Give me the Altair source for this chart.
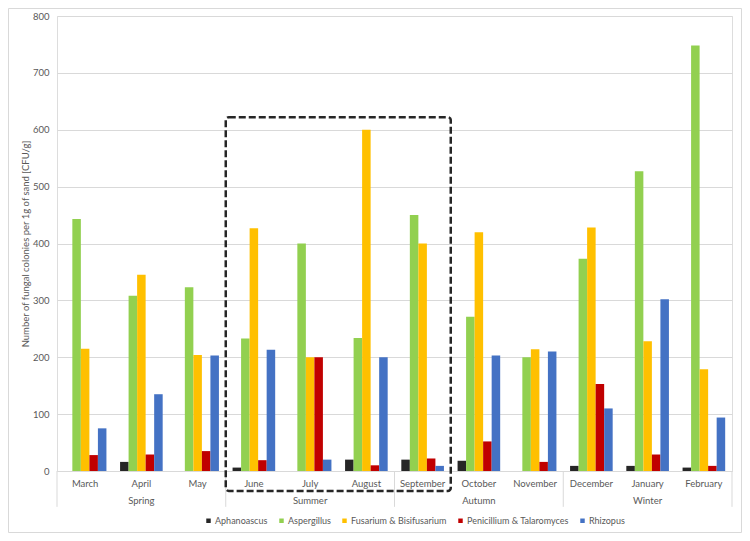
import altair as alt
import pandas as pd

months = ["March", "April", "May", "June", "July", "August", "September",
          "October", "November", "December", "January", "February"]
seasons = ["Spring", "Summer", "Autumn", "Winter"]
season_centres = [1.5, 4.5, 7.5, 10.5]
season_edges = [0, 3, 6, 9, 12]
series = ["Aphanoascus", "Aspergillus", "Fusarium & Bisifusarium",
          "Penicillium & Talaromyces", "Rhizopus"]
colors = ["#262626", "#92D050", "#FFC000", "#C00000", "#4472C4"]

aphanoascus = [0, 16, 0, 6, 0, 20, 20, 18, 0, 9, 9, 6]
aspergillus = [443, 308, 323, 233, 400, 234, 450, 271, 200, 373, 527, 748]
fusarium = [215, 345, 204, 427, 200, 600, 400, 420, 214, 428, 228, 179]
penicillium = [28, 29, 35, 19, 200, 10, 22, 52, 16, 153, 29, 9]
rhizopus = [75, 135, 203, 213, 20, 200, 9, 203, 210, 110, 302, 94]

# dashed highlight box (June..September), in scale units
box_x = [3]
box_x2 = [7]
box_top = [622]
box_bottom = [-35]
sep_top = 0
sep_bottom = -63

values = [aphanoascus, aspergillus, fusarium, penicillium, rhizopus]
rows = []
for s, vals in zip(series, values):
    for m, v in zip(months, vals):
        rows.append({"month": m, "series": s, "value": v})
df = pd.DataFrame(rows)

FONT = "Lato"
GREY = "#595959"
LINE = "#d9d9d9"

yscale = alt.Scale(domain=[0, 800], nice=False)

bars = alt.Chart(df).mark_bar().encode(
    x=alt.X("month:N", sort=months,
            scale=alt.Scale(paddingInner=0, paddingOuter=0),
            axis=alt.Axis(title=None, labelAngle=0, ticks=False, grid=False,
                          domainColor=LINE, labelColor=GREY, labelFontSize=9.5,
                          labelFont=FONT, labelPadding=7)),
    xOffset=alt.XOffset("series:N", sort=series,
                        scale=alt.Scale(paddingInner=0, paddingOuter=0.8)),
    y=alt.Y("value:Q", scale=yscale,
            axis=alt.Axis(title="Number of fungal colonies per 1g of sand [CFU/g]",
                          values=list(range(0, 801, 100)), ticks=False,
                          domain=False, gridColor=LINE, labelColor=GREY,
                          labelFontSize=9.5, labelFont=FONT, labelPadding=8,
                          titleColor=GREY, titleFontSize=9.5, titleFont=FONT,
                          titleFontWeight="normal", titlePadding=2)),
    color=alt.Color("series:N", sort=series,
                    scale=alt.Scale(domain=series, range=colors),
                    legend=alt.Legend(title=None, orient="none", direction="horizontal",
                                      legendX=147, legendY=500, symbolType="square",
                                      symbolSize=20, symbolStrokeWidth=0,
                                      labelFontSize=9, labelFont=FONT,
                                      labelColor=GREY, columnPadding=9,
                                      labelOffset=2)),
)

qx = alt.Scale(domain=[0, 12], nice=False, zero=False)

sep_df = pd.DataFrame({"pos": season_edges, "top": sep_top, "bottom": sep_bottom})
seps = alt.Chart(sep_df).mark_rule(color=LINE, strokeWidth=1).encode(
    x=alt.X("pos:Q", scale=qx, axis=None),
    y=alt.Y("top:Q", scale=yscale),
    y2="bottom:Q",
)

season_df = pd.DataFrame({"pos": season_centres, "season": seasons})
season_text = alt.Chart(season_df).mark_text(
    font=FONT, fontSize=9.5, color=GREY, baseline="middle"
).encode(
    x=alt.X("pos:Q", scale=qx, axis=None),
    y=alt.value(485),
    text="season:N",
)

box_df = pd.DataFrame({"x": box_x, "x2": box_x2, "top": box_top, "bottom": box_bottom})
box = alt.Chart(box_df).mark_rect(
    filled=False, stroke="#262626", strokeWidth=2.5, strokeDash=[7, 3],
    cornerRadius=3
).encode(
    x=alt.X("x:Q", scale=qx, axis=None),
    x2="x2:Q",
    y=alt.Y("top:Q", scale=yscale),
    y2="bottom:Q",
)

frame = alt.Chart(pd.DataFrame({"a": [0]})).mark_rect(
    filled=False, stroke=LINE, strokeWidth=1
).encode(
    x=alt.value(-48.5), x2=alt.value(684.5),
    y=alt.value(-7.5), y2=alt.value(516.5),
)

chart = alt.layer(bars, seps, season_text, box, frame).resolve_scale(
    x="independent"
).properties(
    width=675, height=455,
    autosize=alt.AutoSizeParams(type="none"),
    padding={"left": 49, "top": 8, "right": 10, "bottom": 62},
).configure_view(stroke=None).configure(background="white")

chart.save("out.html", embed_options={"renderer": "svg", "actions": False})
